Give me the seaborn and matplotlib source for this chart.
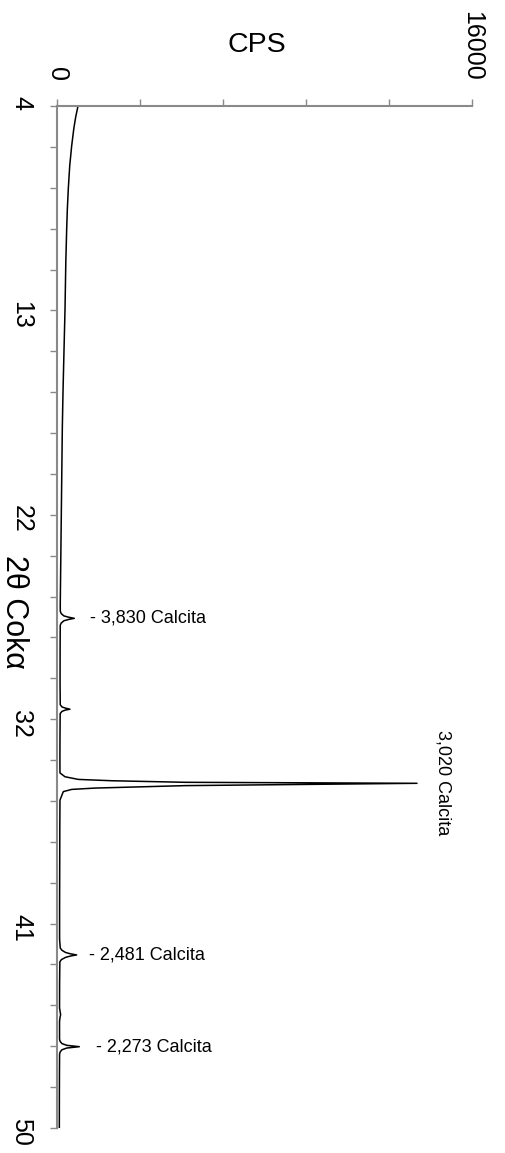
import numpy as np
import pandas as pd
import matplotlib
matplotlib.use("Agg")
import matplotlib.pyplot as plt
import seaborn as sns

# Diffractogram (2theta in degrees, intensity in CPS)
two_theta = [
    4.0, 4.5, 5.0, 5.8, 6.7, 7.7, 8.6, 9.5, 11.0, 13.2, 15.0, 16.9, 18.5, 20.0,
    22.0, 24.0, 25.5, 26.5, 26.75, 26.85, 26.95, 27.01, 27.06, 27.11, 27.17,
    27.27, 27.37, 28.5, 30.0, 30.95, 31.05, 31.10, 31.15, 31.19, 31.25, 31.35,
    32.5, 33.5, 34.02, 34.19, 34.31, 34.37, 34.44, 34.485, 34.59, 34.70, 34.76,
    34.86, 35.24, 36.5, 38.0, 40.0, 41.5, 41.9, 42.0, 42.1, 42.16, 42.21,
    42.26, 42.32, 42.42, 42.52, 43.5, 44.6, 44.8, 44.9, 45.0, 45.2, 46.0,
    46.1, 46.2, 46.28, 46.34, 46.40, 46.48, 46.58, 46.68, 47.5, 48.5, 50.0,
]
cps = [
    810, 720, 650, 565, 490, 437, 400, 374, 340, 308, 270, 231, 205, 190,
    170, 150, 135, 125, 128, 165, 265, 450, 667, 450, 265,
    165, 125, 120, 118, 125, 195, 320, 500, 320, 190, 122,
    115, 112, 115, 308, 821, 2109, 4934, 13880, 4934, 1465, 567,
    243, 115, 108, 105, 100, 100, 125, 190, 330, 520, 758,
    520, 330, 170, 110, 100, 98, 125, 140, 120, 98, 98,
    120, 190, 380, 860, 380, 190, 120, 100, 95, 92, 90,
]

theta_ticks = ["4", "13", "22", "32", "41", "50"]
cps_ticks = ["0", "", "", "", "", "16000"]

peak_labels = ["- 3,830 Calcita", "3,020 Calcita", "- 2,481 Calcita", "- 2,273 Calcita"]
peak_theta = [27.06, 34.47, 42.21, 46.34]
peak_text_x = [1270, 14880, 1250, 1500]

df = pd.DataFrame({"theta": two_theta, "cps": cps})

sns.set_style("white")
plt.rcParams["font.family"] = ["Liberation Sans", "DejaVu Sans"]
plt.rcParams["text.color"] = "black"
plt.rcParams["xtick.labelcolor"] = "black"
plt.rcParams["ytick.labelcolor"] = "black"

axis_grey = "#898989"

fig = plt.figure(figsize=(5.06, 11.53), dpi=100)
ax = fig.add_axes([57 / 506, 1 - 1128 / 1153, 415 / 506, 1022 / 1153])

sns.lineplot(data=df, x="cps", y="theta", sort=False, estimator=None,
             color="black", linewidth=1.1, ax=ax)

ax.set_xlim(0, 16000)
ax.set_ylim(50, 4)
ax.xaxis.tick_top()
ax.set_xticks(np.linspace(0, 16000, 6))
ax.set_xticklabels(cps_ticks)
ax.set_yticks(np.linspace(4, 50, 6))
ax.set_yticklabels(theta_ticks)
ax.set_yticks(np.linspace(4, 50, 26), minor=True)
ax.set_xlabel("")
ax.set_ylabel("")

for side in ["right", "bottom"]:
    ax.spines[side].set_visible(False)
for side in ["top", "left"]:
    ax.spines[side].set_color(axis_grey)
    ax.spines[side].set_linewidth(1.5)

ax.tick_params(axis="x", which="major", direction="out", length=5, width=1,
               color=axis_grey, labelsize=18, pad=13, labelrotation=270,
               top=True, bottom=False, labelcolor="black")
ax.tick_params(axis="y", which="both", direction="out", length=5, width=1,
               color=axis_grey, left=True)
ax.tick_params(axis="y", which="major", labelsize=18, pad=12, labelrotation=270,
               labelcolor="black")

for lbl, th, xx in zip(peak_labels, peak_theta, peak_text_x):
    if lbl.startswith("-"):
        ax.text(xx, th, lbl, fontsize=13, ha="left", va="center", color="black")
    else:
        ax.text(xx, th, lbl, fontsize=13, ha="center", va="center",
                rotation=270, color="black")

fig.text(257 / 506, 1 - 45 / 1153, "CPS", fontsize=20.5, ha="center",
         va="center", color="black")
fig.text(14 / 506, 1 - 612 / 1153, "2θ Cokα", fontsize=22, ha="center",
         va="center", rotation=270, color="black")

fig.savefig("out.png", dpi=100, facecolor="white")
